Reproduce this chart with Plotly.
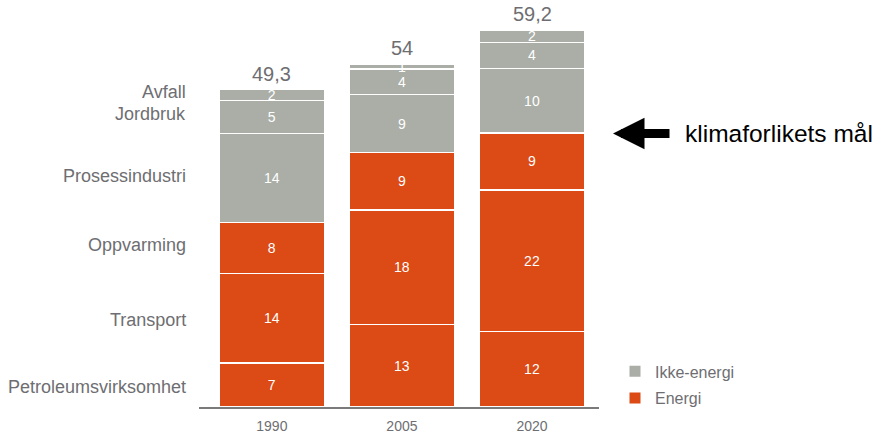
import numpy as np
import plotly.graph_objects as go

# ---------------- data ----------------
years = ["1990", "2005", "2020"]
sectors = ["Petroleumsvirksomhet", "Transport", "Oppvarming",
           "Prosessindustri", "Jordbruk", "Avfall"]
petroleum = [6.9, 13.0, 11.9]
transport = [14.1, 18.0, 22.2]
oppvarming = [8.0, 9.0, 9.0]
prosessindustri = [14.0, 9.1, 10.1]
jordbruk = [5.2, 4.0, 4.1]
avfall = [1.7, 0.8, 1.9]
sector_group = ["Energi", "Energi", "Energi", "Ikke-energi", "Ikke-energi", "Ikke-energi"]
totals = [49.3, 54.0, 59.2]
total_labels = ["49,3", "54", "59,2"]
target_value = 43.0
target_label = "klimaforlikets mål"

series = [petroleum, transport, oppvarming, prosessindustri, jordbruk, avfall]

# ---------------- style ----------------
ORANGE = "#DC4A15"
GREY = "#AAAEA7"
TXT = "#6E6E72"
FONT = "Liberation Sans, Arial, Helvetica, sans-serif"
colors = {"Energi": ORANGE, "Ikke-energi": GREY}

fig = go.Figure()
for name, vals, grp in zip(sectors, series, sector_group):
    fig.add_trace(go.Bar(
        x=years, y=vals, name=name,
        marker=dict(color=colors[grp], line=dict(color="white", width=1.5)),
        texttemplate="%{y:.0f}", textposition="inside", insidetextanchor="middle",
        textangle=0, textfont=dict(color="white", size=14, family=FONT),
        hoverinfo="skip", showlegend=False,
    ))

# legend entries
for grp in ["Ikke-energi", "Energi"]:
    fig.add_trace(go.Scatter(
        x=[None], y=[None], mode="markers", name=grp, legendgroup=grp,
        marker=dict(symbol="square", size=11, color=colors[grp]),
        hoverinfo="skip",
    ))

ann = []
# totals above each bar
for i, tl in enumerate(total_labels):
    top = sum(s[i] for s in series)
    ann.append(dict(x=i, y=top, text=tl, showarrow=False, yanchor="bottom",
                    yshift=3, font=dict(size=20, color=TXT, family=FONT)))

# left sector labels, at the 1990 segment midpoints
first = np.array([s[0] for s in series])
mids = np.cumsum(first) - first / 2
shifts = [-2, -2, 3, 2, 3, 3]
for name, m, sh in zip(sectors, mids, shifts):
    ann.append(dict(xref="paper", x=0, xanchor="right", xshift=-11,
                    y=m, yanchor="middle", yshift=sh, text=name, showarrow=False,
                    font=dict(size=18, color=TXT, family=FONT)))

# target arrow and label
ann.append(dict(xref="paper", x=1.035, y=target_value, text="", showarrow=True,
                ax=58, ay=0, arrowhead=2, arrowsize=0.7, arrowwidth=9,
                arrowcolor="black", standoff=0))
ann.append(dict(xref="paper", x=1.21, xanchor="left", y=target_value,
                yanchor="middle", text=target_label, showarrow=False,
                font=dict(size=24.5, color="black", family=FONT)))

fig.update_layout(
    width=874, height=434,
    margin=dict(l=199, r=275, t=10, b=27),
    barmode="stack", bargap=0.185,
    paper_bgcolor="white", plot_bgcolor="white",
    font=dict(family=FONT, color=TXT),
    uniformtext=dict(minsize=14, mode="show"),
    annotations=ann,
    legend=dict(x=1.04, xanchor="left", y=0.1326, yanchor="top",
                traceorder="grouped", tracegroupgap=3,
                font=dict(size=16, color=TXT, family=FONT),
                bgcolor="rgba(0,0,0,0)"),
    xaxis=dict(type="category", range=[-0.56, 2.515], showline=True,
               linecolor="#7A7A7A", linewidth=1.5, showgrid=False,
               zeroline=False, ticks="",
               tickfont=dict(size=14, color=TXT, family=FONT),
               ticklabelstandoff=6, automargin=False, fixedrange=True),
    yaxis=dict(range=[0, 62.4], visible=False, fixedrange=True),
)

fig.write_html(
    "out.html",
    config={"displayModeBar": False, "staticPlot": True},
    post_script="document.body.style.margin='0';document.body.style.overflow='hidden';",
)
